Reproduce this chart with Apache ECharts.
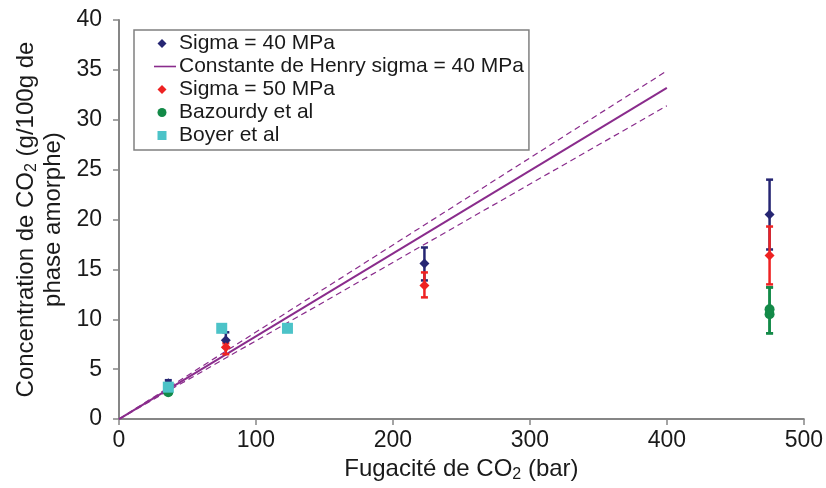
<!DOCTYPE html>
<html>
<head>
<meta charset="utf-8">
<script src="https://cdn.jsdelivr.net/npm/echarts@6/dist/echarts.min.js"></script>
<style>html,body{margin:0;padding:0;background:#fff;}#c{width:826px;height:488px;}</style>
</head>
<body>
<div id="c"></div>
<script>
// ---- data ----
const sigma40X = [36, 78, 223, 475];
const sigma40Y = [3.6, 7.9, 15.6, 20.5];
const sigma40Low = [3.3, 7.2, 13.9, 17.0];
const sigma40High = [3.9, 8.7, 17.2, 24.0];

const sigma50X = [78, 223, 475];
const sigma50Y = [7.2, 13.4, 16.4];
const sigma50Low = [6.5, 12.2, 13.5];
const sigma50High = [7.6, 14.7, 19.3];

const bazX = [36, 475, 475];
const bazY = [2.7, 10.5, 11.0];
const bazLow = [2.5, 8.6, 8.6];
const bazHigh = [3.0, 13.2, 13.2];

const boyerX = [36, 75, 123];
const boyerY = [3.2, 9.1, 9.1];

const henryX = [0, 400];
const henryY = [0, 33.2];
const henryUpperY = [0, 34.9];
const henryLowerY = [0, 31.4];

const names = ['Sigma = 40 MPa', 'Constante de Henry sigma = 40 MPa', 'Sigma = 50 MPa', 'Bazourdy et al', 'Boyer et al'];
// ---- colours ----
const cBlue = '#262673', cPurple = '#8a2c8c', cRed = '#ee2222', cGreen = '#138a48', cCyan = '#4cc3c8';

const zip = (a, b) => a.map((v, i) => [v, b[i]]);
const zip3 = (a, b, c) => a.map((v, i) => [v, b[i], c[i]]);

function errBar(color) {
  return function (params, api) {
    const x = api.value(0), lo = api.value(1), hi = api.value(2);
    const p1 = api.coord([x, lo]), p2 = api.coord([x, hi]);
    const w = 3.5;
    const st = { stroke: color, lineWidth: 2.5 };
    return {
      type: 'group', children: [
        { type: 'line', shape: { x1: p1[0], y1: p1[1], x2: p2[0], y2: p2[1] }, style: st },
        { type: 'line', shape: { x1: p1[0] - w, y1: p1[1], x2: p1[0] + w, y2: p1[1] }, style: st },
        { type: 'line', shape: { x1: p2[0] - w, y1: p2[1], x2: p2[0] + w, y2: p2[1] }, style: st }
      ]
    };
  };
}

// legend icons inside a 22x14 box (moveTo corners fix the box)
const box = 'path://M0,0M22,14';
const iconDiamond = box + 'M8,2.5L12.5,7L8,11.5L3.5,7Z';
const iconCircle = box + 'M3.5,7A4.5,4.5 0 1 0 12.5,7A4.5,4.5 0 1 0 3.5,7Z';
const iconSquare = box + 'M3.5,2.5L12.5,2.5L12.5,11.5L3.5,11.5Z';
const iconLine = box + 'M0,6.2L22,6.2L22,7.8L0,7.8Z';

const font = 'Liberation Sans, Arial, sans-serif';
const txt = '#1a1a1a';
const chart = echarts.init(document.getElementById('c'));
chart.setOption({
  animation: false,
  backgroundColor: '#fff',
  grid: { left: 119, right: 19, top: 20, bottom: 67 },
  legend: {
    orient: 'vertical', left: 134, top: 30,
    padding: [2, 5, 3, 20],
    itemGap: 0, itemWidth: 22, itemHeight: 14,
    borderColor: '#808080', borderWidth: 1.5,
    textStyle: { fontFamily: font, fontSize: 21, color: txt, lineHeight: 23, padding: [0, 0, 0, -2] },
    data: [
      { name: names[0], icon: iconDiamond, itemStyle: { color: cBlue } },
      { name: names[1], icon: iconLine, itemStyle: { color: cPurple } },
      { name: names[2], icon: iconDiamond, itemStyle: { color: cRed } },
      { name: names[3], icon: iconCircle, itemStyle: { color: cGreen } },
      { name: names[4], icon: iconSquare, itemStyle: { color: cCyan } }
    ]
  },
  xAxis: {
    type: 'value', min: 0, max: 500, interval: 100,
    name: '{a|Fugacité de CO}{s|2}{a| (bar)}',
    nameLocation: 'middle', nameGap: 33,
    nameTextStyle: { rich: {
      a: { fontFamily: font, fontSize: 24, color: txt, lineHeight: 28 },
      s: { fontFamily: font, fontSize: 16, color: txt, lineHeight: 28, verticalAlign: 'bottom', padding: [10, 0, 0, 0] }
    } },
    axisLine: { lineStyle: { color: '#868686', width: 2 } },
    axisTick: { show: true, inside: false, length: 6, lineStyle: { color: '#868686', width: 1.5 } },
    axisLabel: { fontFamily: font, fontSize: 23, color: txt, margin: 10 },
    splitLine: { show: false }
  },
  yAxis: {
    type: 'value', min: 0, max: 40, interval: 5,
    name: '{a|Concentration de CO}{s|2}{a| (g/100g de}\n{a|phase amorphe)}',
    nameLocation: 'middle', nameGap: 51,
    nameTextStyle: { align: 'center', rich: {
      a: { fontFamily: font, fontSize: 24, color: txt, lineHeight: 27, align: 'center' },
      s: { fontFamily: font, fontSize: 16, color: txt, lineHeight: 27, verticalAlign: 'bottom', padding: [10, 0, 0, 0] }
    } },
    axisLine: { show: true, lineStyle: { color: '#868686', width: 2 } },
    axisTick: { show: true, inside: false, length: 6, lineStyle: { color: '#868686', width: 1.5 } },
    axisLabel: { fontFamily: font, fontSize: 23, color: txt, margin: 17 },
    splitLine: { show: false }
  },
  series: [
    { name: names[1], type: 'line', data: zip(henryX, henryY), symbol: 'none', color: cPurple, lineStyle: { color: cPurple, width: 2 }, z: 2 },
    { type: 'line', data: zip(henryX, henryUpperY), symbol: 'none', lineStyle: { color: cPurple, width: 1.2, type: [6, 4] }, z: 2, silent: true },
    { type: 'line', data: zip(henryX, henryLowerY), symbol: 'none', lineStyle: { color: cPurple, width: 1.2, type: [6, 4] }, z: 2, silent: true },
    { type: 'custom', renderItem: errBar(cBlue), data: zip3(sigma40X, sigma40Low, sigma40High), z: 3, silent: true },
    { type: 'custom', renderItem: errBar(cRed), data: zip3(sigma50X, sigma50Low, sigma50High), z: 3, silent: true },
    { type: 'custom', renderItem: errBar(cGreen), data: zip3(bazX, bazLow, bazHigh), z: 3, silent: true },
    { name: names[0], type: 'scatter', data: zip(sigma40X, sigma40Y), symbol: 'diamond', symbolSize: 10, itemStyle: { color: cBlue, opacity: 1 }, z: 4 },
    { name: names[2], type: 'scatter', data: zip(sigma50X, sigma50Y), symbol: 'diamond', symbolSize: 10, itemStyle: { color: cRed, opacity: 1 }, z: 4 },
    { name: names[3], type: 'scatter', data: zip(bazX, bazY), symbol: 'circle', symbolSize: 10, itemStyle: { color: cGreen, opacity: 1 }, z: 4 },
    { name: names[4], type: 'scatter', data: zip(boyerX, boyerY), symbol: 'rect', symbolSize: 11, itemStyle: { color: cCyan, opacity: 1 }, z: 5 }
  ]
});
</script>
</body>
</html>
